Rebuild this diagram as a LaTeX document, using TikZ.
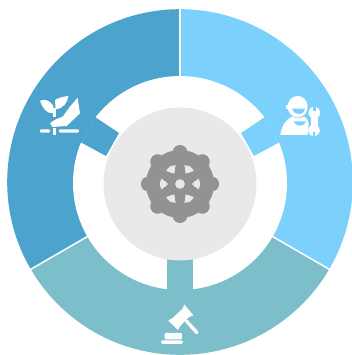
\documentclass[tikz,border=0pt]{standalone}
\usetikzlibrary{calc}
\definecolor{segleft}{HTML}{4BA3CE}
\definecolor{segright}{HTML}{7BD0FC}
\definecolor{segbottom}{HTML}{7CBFCB}
\definecolor{hubgray}{HTML}{E9E9E9}
\definecolor{geargray}{HTML}{929292}
\tikzset{
  zoomL/.style={shift={(0,0)},x=0.3333pt,y=-0.3333pt},
  zoomR/.style={shift={(176,0)},x=0.3333pt,y=-0.3333pt},
  zoomB/.style={shift={(90,178)},x=0.3333pt,y=-0.3333pt},
  iconline/.style={line cap=round,line join=round}
}
\begin{document}
\begin{tikzpicture}[x=1pt,y=-1pt]
\useasboundingbox (0,0) rectangle (351,355);
\fill[white] (0,0) rectangle (351,355);
\coordinate (c) at (180,183);
% ring sectors
\begin{scope}
  \clip (180,182) circle[radius=172.8pt];
  \fill[segleft] (c) -- (180,-100) -- (-200,-100) -- (-200,402) -- cycle;
  \fill[segright] (c) -- (180,-100) -- (560,-100) -- (560,402) -- cycle;
  \fill[segbottom] (c) -- (-166,383) -- (-166,600) -- (526,600) -- (526,383) -- cycle;
  \draw[white,line width=1.5pt] (c) -- (180,-100);
  \draw[white,line width=1.5pt] (c) -- (-166,383);
  \draw[white,line width=1.5pt] (c) -- (526,383);
\end{scope}
% inner white ring
\fill[white] (c) circle[radius=107pt];
% connecting strips
\fill[segleft] (95,117) -- (82,143) -- (69,135.5) -- (82,109.5) -- cycle;
\fill[segleft] (95,117) -- (82,143) -- (106,156) -- (119,133) -- cycle;
\fill[segright] (265,117) -- (278,143) -- (291,135.5) -- (278,109.5) -- cycle;
\fill[segright] (265,117) -- (278,143) -- (254,156) -- (241,133) -- cycle;
\fill[segbottom] (166.7,258) rectangle (193.3,296);
% hub
\fill[hubgray] (180,184) circle[radius=76.5pt];
% gear
\begin{scope}[shift={(180,184)}]
  \foreach \a in {0,45,...,315}
    \fill[geargray] (\a:31.5) circle[radius=7.5pt];
  \fill[geargray,even odd rule]
    (0,0) circle[radius=34pt]
    (0,0) circle[radius=5pt]
    \foreach \a in {0,60,120,180,240,300} {
      (\a-17:19.5) -- (\a:20.5) -- (\a+17:19.5) -- (\a+4:12.5) -- (\a-4:12.5) -- cycle
    };
\end{scope}
% plant icon
\begin{scope}[zoomL]
  \fill[white,iconline] (120,302) .. controls (135,296) and (152,302) .. (160,318) .. controls (160,328) and (160,340) .. (157,340) .. controls (140,340) and (128,325) .. (120,302) -- cycle;
  \fill[white,iconline] (165,300) .. controls (178,292) and (192,290) .. (205,288) .. controls (203,308) and (190,325) .. (167,328) -- cycle;
  \fill[white] (158,325) rectangle (168,352);
  \fill[white,iconline] (150,370) .. controls (160,360) and (175,355) .. (188,350) -- (210,320) -- (233,293) -- (240,340) -- (200,378) -- (158,381) -- cycle;
  \fill[white,rounded corners=1pt] (120,388) rectangle (150,398);
  \fill[white] (158,384) rectangle (169,405);
  \fill[white,rounded corners=1pt] (177,388) rectangle (237,398);
\end{scope}
% worker icon
\begin{scope}[zoomR]
  \fill[white] (365,320) circle[x radius=10pt,y radius=10.7pt];
  \fill[white] (330,314) rectangle (345,328);
  \fill[segright] (349,326) -- (387,326) .. controls (385,348) and (353,348) .. (349,326) -- cycle;
  \fill[white,iconline] (313,405) .. controls (316,380) and (328,360) .. (347,350) .. controls (360,355) and (375,355) .. (385,350) .. controls (392,355) and (398,363) .. (398,372) -- (395,405) -- cycle;
  \fill[segright] (352,364) -- (390,364) .. controls (388,380) and (358,382) .. (352,364) -- cycle;
  \fill[white] (405,348) rectangle (425,385);
  \fill[white] (415,338) circle[radius=5.8pt];
  \fill[white] (414,391) circle[radius=5.8pt];
  \fill[segright] (411,318) -- (419,318) -- (419,333) -- (411,333) -- cycle;
  \fill[segright] (410,397) -- (418,397) -- (418,410) -- (410,410) -- cycle;
\end{scope}
% gavel icon
\begin{scope}[zoomB]
  \fill[white,iconline] (235,428) -- (248,420) -- (277,393) -- (283,380) -- (310,412) -- (296,418) -- (270,445) -- (264,456) -- cycle;
  \draw[white,line width=3.4pt,line cap=round] (290,430) -- (321,464);
  \fill[white,rounded corners=1pt] (224,465) rectangle (276,484);
  \fill[white,rounded corners=1.5pt] (213,487) rectangle (279,498);
\end{scope}
\end{tikzpicture}
\end{document}
